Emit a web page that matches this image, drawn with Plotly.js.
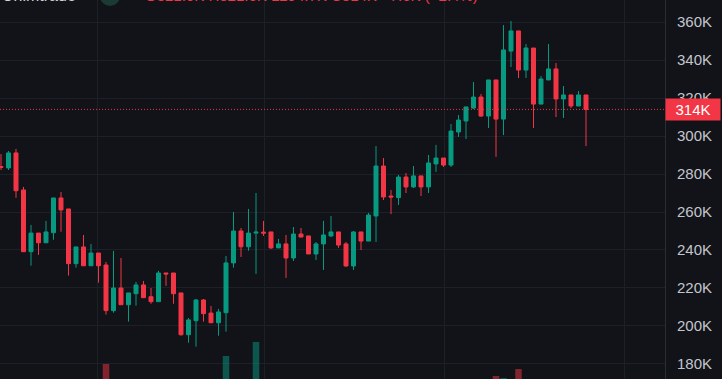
<!DOCTYPE html>
<html>
<head>
<meta charset="utf-8">
<script src="https://cdn.plot.ly/plotly-3.0.1.min.js"></script>
<style>
html,body{margin:0;padding:0;background:#121318;overflow:hidden;}
#chart{width:722px;height:379px;}
</style>
</head>
<body>
<div id="chart"></div>
<script>
// OHLC values in thousands (K)
const opens = [283.9,283.2,291.1,271.6,239.1,248.9,243.8,249.1,267.4,261.6,
  232.8,241.6,231.7,238.4,232.1,208.1,220.0,211.2,217.0,221.6,
  215.4,212.8,227.9,227.9,217.4,195.4,202.8,213.7,206.8,201.7,
  207.0,233.2,250.0,241.7,248.9,249.4,249.5,241.1,243.2,235.8,
  248.4,247.4,237.9,243.2,247.4,249.5,243.2,231.6,249.5,244.7,
  257.9,284.2,268.4,267.6,278.4,273.2,279.0,273.2,285.3,288.4,
  284.7,302.1,307.9,314.7,320.5,310.5,329.5,308.9,344.7,355.3,
  334.7,346.3,316.8,329.5,335.3,319.5,321.6,315.8,321.6];
const highs = [290.5,292.1,293.2,273.2,253.2,248.9,255.3,267.4,270.5,261.6,
  241.6,247.9,243.2,238.4,233.7,239.5,235.8,217.4,223.2,223.7,
  220.0,229.0,227.9,227.9,217.4,204.2,214.2,214.2,210.5,209.0,
  236.8,260.0,251.6,261.6,270.0,255.3,249.5,245.8,247.9,252.1,
  251.6,247.4,244.2,255.3,257.9,249.5,244.2,250.0,249.5,259.5,
  294.7,288.4,271.6,279.5,280.5,284.2,279.0,290.0,295.3,288.4,
  306.3,311.1,315.3,328.4,322.1,329.5,329.5,358.4,360.5,355.3,
  348.4,346.3,331.6,348.4,338.4,326.3,321.6,323.7,321.6];
const lows = [282.1,282.1,267.5,239.0,231.7,237.4,243.8,245.4,249.6,226.5,
  230.7,231.7,231.7,222.8,206.0,207.0,211.2,202.3,210.7,214.9,
  211.7,212.8,221.1,211.7,194.9,191.2,189.1,202.3,201.7,194.9,
  197.0,230.7,236.3,239.6,227.4,247.4,240.5,241.1,225.3,234.2,
  246.8,237.9,234.7,229.5,246.8,241.1,231.1,229.5,240.0,244.7,
  244.2,266.3,258.9,263.7,270.0,272.6,268.4,270.0,281.1,283.7,
  283.7,299.5,298.4,314.2,310.0,304.2,289.0,300.5,336.3,330.5,
  330.5,304.2,316.8,329.5,310.0,309.5,314.7,315.8,294.7];
const closes = [283.5,291.1,271.2,239.1,248.9,243.8,249.5,267.4,261.1,232.8,
  241.6,231.7,238.4,231.7,208.1,220.0,211.2,217.4,221.6,214.9,
  212.8,227.9,227.4,217.0,195.4,203.2,213.7,206.5,201.7,207.4,
  233.2,250.0,241.7,248.9,249.4,248.9,241.1,243.2,235.8,248.4,
  246.8,237.9,243.2,247.9,249.5,242.6,231.6,249.5,244.7,258.4,
  284.2,267.9,267.9,278.4,273.2,279.0,273.2,285.8,288.4,284.7,
  302.6,308.4,315.3,320.5,310.5,329.5,308.9,345.3,355.3,334.7,
  346.3,316.8,330.0,335.3,319.5,321.6,315.8,321.6,314.0];
const volumes = [22,18,30,34,26,16,20,28,24,36,
  19,22,15,25,55,33,27,21,17,20,
  14,24,12,23,38,26,32,24,18,22,
  63,36,25,30,77,19,21,14,28,26,
  11,23,17,29,18,20,27,31,17,24,
  39,30,16,24,19,17,18,26,22,15,
  33,25,28,27,26,36,43,41,38,50,
  30,34,24,28,30,18,17,16,22];
const yTickVals = [180,200,220,240,260,280,300,320,340,360];
const yTickText = ['180K','200K','220K','240K','260K','280K','300K','320K','340K','360K'];
const timeGridPos = [12.93,35.07,59.07,83.07];
const lastPrice = 314;
const lastPriceLabel = '314K';
const headerLeft = 'Unimtrade';
const headerValues = 'O321.6K H321.6K L294.7K C314K −7.6K (−2.4%)';

const GREEN = '#089981', RED = '#f23645';
const BG = '#121318', GRID = '#1e2027';
const idx = closes.map((_, i) => i);
const volColors = closes.map((c, i) => c >= opens[i] ? 'rgba(8,153,129,0.5)' : 'rgba(242,54,69,0.5)');

const traces = [
  {type:'bar', x: idx, y: volumes, marker:{color: volColors, line:{width:0}}, width:0.87,
   xaxis:'x', yaxis:'y2', hoverinfo:'none', showlegend:false},
  {type:'candlestick', x: idx, open: opens, high: highs, low: lows, close: closes,
   increasing:{line:{color:GREEN, width:1}, fillcolor:GREEN},
   decreasing:{line:{color:RED, width:1}, fillcolor:RED},
   whiskerwidth:0, xaxis:'x', yaxis:'y', hoverinfo:'none', showlegend:false}
];

const layout = {
  width:722, height:379,
  margin:{l:0, r:57, t:0, b:0, pad:0},
  paper_bgcolor:BG, plot_bgcolor:BG,
  showlegend:false,
  boxgap:0.47, boxgroupgap:0,
  font:{family:'Liberation Sans, Arial, sans-serif', size:15, color:'#c3c6ce'},
  xaxis:{range:[-0.133, 88.533], showticklabels:false, tickvals: timeGridPos,
         showgrid:true, gridcolor:GRID, gridwidth:1, zeroline:false, showline:false,
         ticks:'', rangeslider:{visible:false}, fixedrange:true},
  yaxis:{side:'right', range:[172.1, 371.58], tickvals: yTickVals, ticktext: yTickText,
         showgrid:true, gridcolor:GRID, gridwidth:1, zeroline:false,
         showline:true, linecolor:'#2a2d35', linewidth:1, ticks:'',
         ticklabelstandoff:8, tickfont:{size:15, color:'#c3c6ce'}, fixedrange:true},
  yaxis2:{overlaying:'y', range:[40, 419], visible:false, fixedrange:true},
  shapes:[
    {type:'line', xref:'paper', x0:0, x1:1, yref:'y', y0:lastPrice, y1:lastPrice,
     line:{color:RED, width:1, dash:'1px,2px'}},
    {type:'circle', xref:'paper', yref:'paper', x0:100/665, x1:120/665,
     y0:1-6/379, y1:1+14/379, fillcolor:'#1b3a33', line:{width:0}}
  ],
  annotations:[
    {xref:'paper', yref:'y', x:1, y:lastPrice, xanchor:'left', yanchor:'middle',
     text:lastPriceLabel, showarrow:false, bgcolor:RED, width:50, height:17, borderpad:2,
     align:'center', font:{size:15, color:'#ffffff'}},
    {xref:'paper', yref:'paper', x:78/665, y:1, xanchor:'right', yanchor:'bottom', yshift:-6.5,
     text:headerLeft, showarrow:false, font:{size:16, color:'#d1d4dc'}},
    {xref:'paper', yref:'paper', x:143/665, y:1, xanchor:'left', yanchor:'bottom', yshift:-6.5,
     text:headerValues, showarrow:false, font:{size:15, color:RED}}
  ]
};

Plotly.newPlot('chart', traces, layout, {staticPlot:true, displayModeBar:false});
</script>
</body>
</html>
